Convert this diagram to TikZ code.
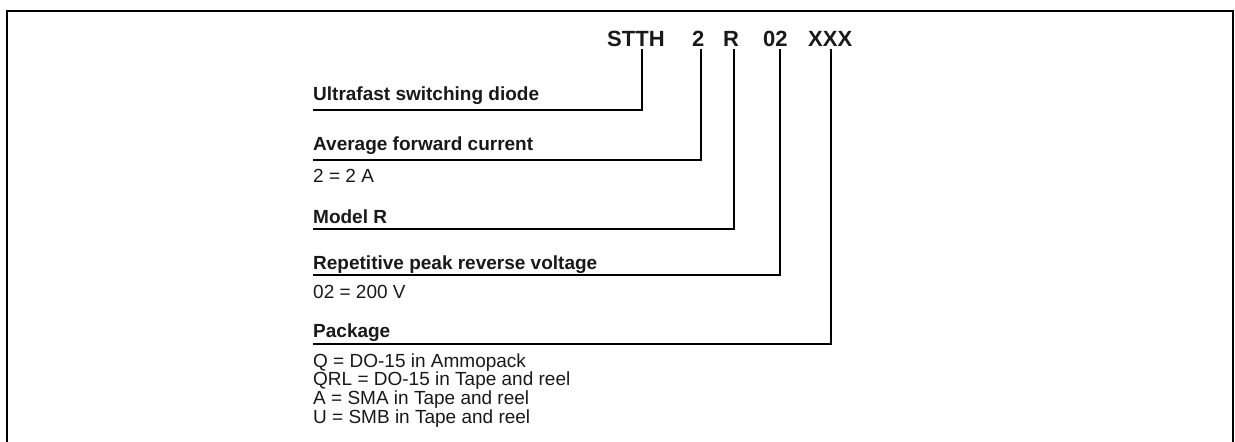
\documentclass[tikz,border=0pt]{standalone}
\usepackage{fontspec}
\setmainfont{Liberation Sans}
\usetikzlibrary{calc}

\begin{document}
\begin{tikzpicture} [x=1pt, y=-1pt]
    \tikzstyle{every node} = [inner sep=0pt, anchor=base west, text=black!90]
    \tikzstyle{partno} = [font=\fontsize{22}{22}\selectfont\bfseries, inner ysep=2.5pt]
    \tikzstyle{fieldname} = [font=\fontsize{19}{19}\selectfont\bfseries]
    \tikzstyle{fieldvalue} = [font=\fontsize{19}{19}\selectfont]
    \tikzstyle{lead} = [line width=1.8pt, line join=miter]
    \useasboundingbox (0,0) rectangle (1235,442);
    \draw [line width=2pt] (7,442) -- (7,11) -- (1233,11) -- (1233,442);

    \node [partno] (stth) at (607,46) {STTH};
    \node [partno] (amp)  at (692,46) {2};
    \node [partno] (mdl)  at (723,46) {R};
    \node [partno] (volt) at (763,46) {02};
    \node [partno] (pkg)  at (808,46) {XXX};

    \node [fieldname] (diode) at (313,100) {Ultrafast switching diode};
    \node [fieldname] (curr) at (313,150) {Average forward current};
    \node [fieldvalue] (currval) at (313,182) {2 = 2 A};
    \node [fieldname] (model) at (313,223) {Model R};
    \node [fieldname] (vrrm) at (313,269) {Repetitive peak reverse voltage};
    \node [fieldvalue] (vrrmval) at (313,298) {02 = 200 V};
    \node [fieldname] (pack) at (313,337) {Package};
    \foreach \txt [count=\i] in {Q = DO-15 in Ammopack, QRL = DO-15 in Tape and reel,
        A = SMA in Tape and reel, U = SMB in Tape and reel}
        \node [fieldvalue] (packval\i) at (313,{367+18.7*(\i-1)}) {\txt};

    \coordinate (c1) at (642,110);
    \coordinate (c2) at (701,160);
    \coordinate (c3) at (734,229);
    \coordinate (c4) at (780,275);
    \coordinate (c5) at (831,344);
    \draw [lead] (stth.south -| c1) -- (c1) -- (c1 -| diode.west);
    \draw [lead] (amp.south -| c2) -- (c2) -- (c2 -| curr.west);
    \draw [lead] (mdl.south -| c3) -- (c3) -- (c3 -| model.west);
    \draw [lead] (volt.south -| c4) -- (c4) -- (c4 -| vrrm.west);
    \draw [lead] (pkg.south -| c5) -- (c5) -- (c5 -| pack.west);
\end{tikzpicture}
\end{document}
